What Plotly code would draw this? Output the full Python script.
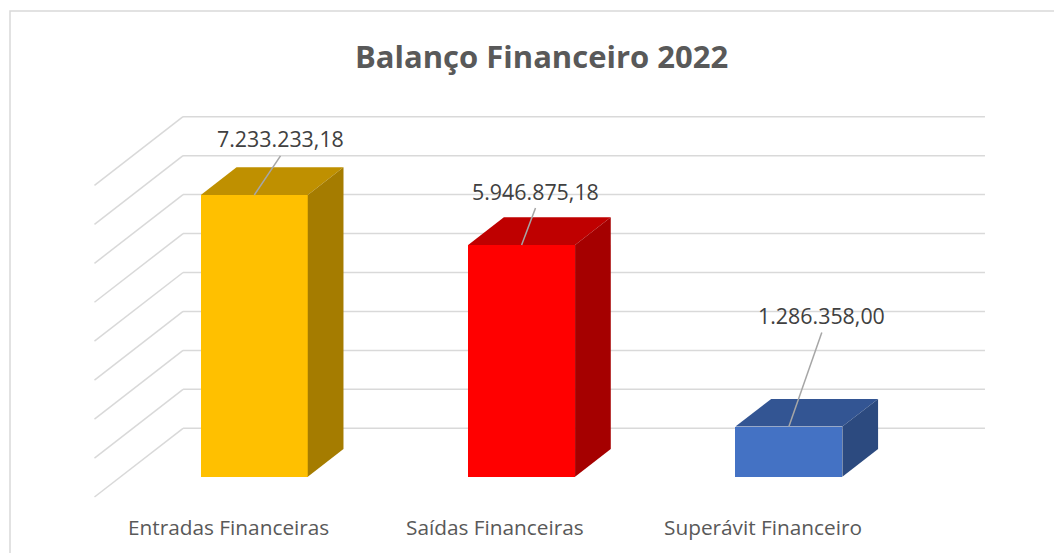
import plotly.graph_objects as go

# ---- data ----
categories = ["Entradas Financeiras", "Saídas Financeiras", "Superávit Financeiro"]
values = [7233233.18, 5946875.18, 1286358.00]
grid_values = [0, 1e6, 2e6, 3e6, 4e6, 5e6, 6e6, 7e6, 8e6]

# ---- style / geometry ----
front_colors = ["#FFC000", "#FF0000", "#4472C4"]
BAR_W = 0.4            # bar width in category units
DX = 0.1336            # horizontal shift of one bar depth (category units)
DY = 0.7112e6          # vertical shift of one bar depth (value units)
WALL = 1.747           # depth of back wall (in bar depths)
FRONT = -0.733         # depth of floor front edge
GRID_COLOR = "#D9D9D9"
label_offsets = [(0.098, 1.438e6), (0.052, 1.386e6), (0.123, 2.850e6)]
LEADER_GAP = 0.436e6
FONT = "Open Sans"
W, H = 1054, 545       # page body has an 8px margin


def shade(hexcol, f):
    h = hexcol.lstrip("#")
    r, g, b = (int(h[i:i + 2], 16) for i in (0, 2, 4))
    return "#%02X%02X%02X" % (int(r * f), int(g * f), int(b * f))


def br(v):
    s = f"{v:,.2f}"
    return s.replace(",", "X").replace(".", ",").replace("X", ".")


fig = go.Figure()
shapes = []

# gridlines: back wall + left wall
for t in grid_values:
    shapes.append(dict(type="line", xref="x", yref="y", layer="below",
                       x0=-0.5 + WALL * DX, y0=t + WALL * DY,
                       x1=len(categories) - 0.5 + WALL * DX, y1=t + WALL * DY,
                       line=dict(color=GRID_COLOR, width=1.5)))
    shapes.append(dict(type="line", xref="x", yref="y", layer="below",
                       x0=-0.5 + WALL * DX, y0=t + WALL * DY,
                       x1=-0.5 + FRONT * DX, y1=t + FRONT * DY,
                       line=dict(color=GRID_COLOR, width=1.5)))

# front faces
fig.add_trace(go.Bar(x=list(range(len(categories))), y=values, width=BAR_W,
                     marker=dict(color=front_colors, line=dict(width=0)),
                     hoverinfo="skip", showlegend=False))

# top and side faces
for i, (v, c) in enumerate(zip(values, front_colors)):
    xl, xr = i - BAR_W / 2, i + BAR_W / 2
    fig.add_trace(go.Scatter(
        x=[xl, xr, xr + DX, xl + DX, xl], y=[v, v, v + DY, v + DY, v],
        mode="lines", fill="toself", fillcolor=shade(c, 0.75),
        line=dict(width=0), hoverinfo="skip", showlegend=False))
    fig.add_trace(go.Scatter(
        x=[xr, xr, xr + DX, xr + DX, xr], y=[0, v, v + DY, DY, 0],
        mode="lines", fill="toself", fillcolor=shade(c, 0.65),
        line=dict(width=0), hoverinfo="skip", showlegend=False))

annotations = []
# value labels with leader lines
for i, (v, (ox, oy)) in enumerate(zip(values, label_offsets)):
    annotations.append(dict(x=i + ox, y=v + oy, xref="x", yref="y",
                            xanchor="center", yanchor="middle",
                            text=br(v), showarrow=False,
                            font=dict(family=FONT, size=21.4, color="#404040")))
    shapes.append(dict(type="line", xref="x", yref="y", layer="above",
                       x0=i + ox, y0=v + oy - LEADER_GAP, x1=i, y1=v,
                       line=dict(color="#A6A6A6", width=1.5)))

# category labels
for i, cat in enumerate(categories):
    annotations.append(dict(x=i + FRONT * DX, y=-1.29e6, xref="x", yref="y",
                            xanchor="center", yanchor="middle",
                            text=cat, showarrow=False,
                            font=dict(family=FONT, size=20.8, color="#595959")))

# title
annotations.append(dict(x=(541 - 8) / W, y=1 - (56 - 8) / H, xref="paper", yref="paper",
                        xanchor="center", yanchor="middle",
                        text="<b>Balanço Financeiro 2022</b>", showarrow=False,
                        font=dict(family=FONT, size=31, color="#595959")))

# chart border
shapes.append(dict(type="rect", xref="paper", yref="paper",
                   x0=2 / W, y0=-0.05, x1=1.05, y1=1 - 3 / H,
                   line=dict(color="#D9D9D9", width=1.5), layer="below"))

fig.update_layout(
    width=W, height=H,
    margin=dict(l=0, r=0, t=0, b=0),
    paper_bgcolor="white", plot_bgcolor="white",
    xaxis=dict(visible=False, range=[-0.92144, 3.02166], fixedrange=True),
    yaxis=dict(visible=False, range=[-1.9589e6, 12.0334e6], fixedrange=True),
    shapes=shapes, annotations=annotations,
    showlegend=False, bargap=0,
)

fig.write_html("out.html")
